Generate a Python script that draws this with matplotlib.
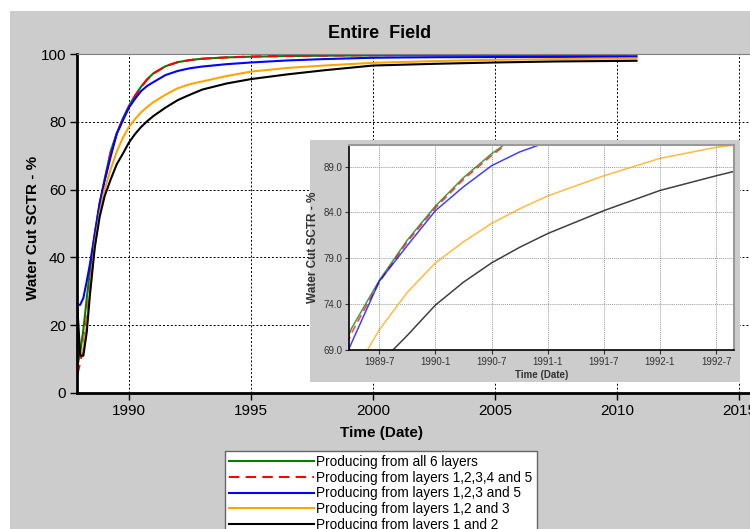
import matplotlib
matplotlib.use("Agg")
import matplotlib.pyplot as plt
from matplotlib.patches import Rectangle

plt.rcParams['font.family'] = ['Liberation Sans', 'DejaVu Sans']

# time in decimal years
years = [1987.88, 1988.0, 1988.13, 1988.27, 1988.4, 1988.6, 1988.8, 1989.0, 1989.25,
         1989.5, 1989.75, 1990.0, 1990.25, 1990.5, 1990.75, 1991.0, 1991.5, 1992.0,
         1992.5, 1993.0, 1994.0, 1995.0, 1996.5, 1998.0, 2000.0, 2002.5, 2005.0,
         2007.5, 2010.8]

wc_all6 = [7.7, 12.0, 18.6, 28.0, 36.0, 47.0, 56.0, 63.0, 71.3,
           76.6, 81.0, 84.7, 87.8, 90.4, 92.6, 94.3, 96.4, 97.6,
           98.2, 98.6, 99.0, 99.2, 99.4, 99.5, 99.6, 99.65, 99.7,
           99.7, 99.75]
wc_12345 = [5.3, 9.0, 13.5, 22.0, 31.0, 45.0, 55.0, 62.5, 70.8,
            76.4, 80.8, 84.5, 87.6, 90.2, 92.5, 94.2, 96.4, 97.6,
            98.2, 98.6, 99.0, 99.25, 99.45, 99.55, 99.65, 99.7, 99.75,
            99.75, 99.8]
wc_1235 = [26.0, 26.0, 28.0, 33.0, 38.0, 47.0, 56.0, 62.5, 69.7,
           76.5, 80.4, 84.2, 86.8, 89.1, 90.6, 91.7, 93.8, 95.0,
           95.8, 96.3, 97.0, 97.5, 98.1, 98.5, 98.9, 99.05, 99.1,
           99.15, 99.2]
wc_123 = [17.0, 11.0, 13.0, 20.0, 30.0, 44.0, 53.0, 60.0, 66.0,
          71.2, 75.3, 78.5, 80.8, 82.8, 84.4, 85.8, 88.0, 89.9,
          91.1, 91.9, 93.5, 94.8, 95.9, 96.6, 97.4, 97.9, 98.3,
          98.5, 98.7]
wc_12 = [26.0, 11.0, 11.0, 18.0, 29.0, 43.0, 52.0, 58.0, 63.0,
         67.5, 70.6, 73.9, 76.4, 78.5, 80.2, 81.7, 84.2, 86.4,
         88.0, 89.5, 91.3, 92.6, 94.0, 95.2, 96.6, 97.1, 97.5,
         97.8, 98.0]

labels = ['Producing from all 6 layers',
          'Producing from layers 1,2,3,4 and 5',
          'Producing from layers 1,2,3 and 5',
          'Producing from layers 1,2 and 3',
          'Producing from layers 1 and 2']
series = [wc_all6, wc_12345, wc_1235, wc_123, wc_12]
colors = ['#008000', '#ff0000', '#0000ff', '#ffa500', '#000000']
styles = ['-', (0, (5, 3)), '-', '-', '-']

main_xticks = [1990, 1995, 2000, 2005, 2010, 2015]
main_yticks = [0, 20, 40, 60, 80, 100]
inset_xticks = [1989.5, 1990.0, 1990.5, 1991.0, 1991.5, 1992.0, 1992.5]
inset_xlabels = ['1989-7', '1990-1', '1990-7', '1991-1', '1991-7', '1992-1', '1992-7']
inset_yticks = [69.0, 74.0, 79.0, 84.0, 89.0]

W, H = 750, 529
fig = plt.figure(figsize=(7.5, 5.29), dpi=100, facecolor='white')
fig.patches.append(Rectangle((10 / W, 0), 1, (H - 11) / H, transform=fig.transFigure,
                             facecolor='#cccccc', edgecolor='none', zorder=-5))

# main axes
ax = fig.add_axes([77 / W, (H - 393) / H, (760 - 77) / W, (393 - 54) / H], zorder=0)
ax.set_facecolor('white')
for s, c, ls, lab in zip(series, colors, styles, labels):
    ax.plot(years, s, color=c, linestyle=ls, linewidth=1.5, label=lab)
ax.set_xlim(1987.87, 2015.86)
ax.set_ylim(0, 100)
ax.set_xticks(main_xticks)
ax.set_yticks(main_yticks)
ax.tick_params(direction='out', length=5, width=1, labelsize=11, pad=3)
ax.grid(True, color='black', linestyle=(0, (2, 2)), linewidth=0.7)
ax.spines['left'].set_linewidth(2)
ax.spines['bottom'].set_linewidth(2)
ax.spines['top'].set_color('#808080')
ax.spines['right'].set_visible(False)

fig.text(380 / W, 1 - 33 / H, 'Entire  Field', ha='center', va='center',
         fontsize=13, fontweight='bold')
fig.text(33 / W, 1 - 228 / H, 'Water Cut SCTR - %', ha='center', va='center',
         rotation=90, fontsize=11, fontweight='bold')
fig.text(382 / W, 1 - 433 / H, 'Time (Date)', ha='center', va='center',
         fontsize=11, fontweight='bold')

# inset panel
fig.patches.append(Rectangle((310 / W, (H - 382) / H), 430 / W, 242 / H,
                             transform=fig.transFigure, facecolor='#cccccc',
                             edgecolor='none', zorder=1))
axi = fig.add_axes([349 / W, (H - 350) / H, 385 / W, 205 / H], zorder=2)
axi.set_facecolor('white')
for s, c, ls in zip(series, colors, styles):
    axi.plot(years, s, color=c, linestyle=ls, linewidth=1.1, alpha=0.75)
axi.set_xlim(1989.23, 1992.66)
axi.set_ylim(69.0, 91.36)
axi.set_xticks(inset_xticks)
axi.set_xticklabels(inset_xlabels)
axi.set_yticks(inset_yticks)
axi.set_yticklabels(['%.1f' % v for v in inset_yticks])
axi.tick_params(direction='out', length=3, width=0.8, labelsize=7, colors='#333333', pad=2)
axi.grid(True, color='#999999', linestyle=(0, (1, 1)), linewidth=0.7)
axi.spines['left'].set_linewidth(1.2)
axi.spines['bottom'].set_linewidth(1.2)
axi.spines['top'].set_color('#999999')
axi.spines['right'].set_color('#999999')
axi.spines['top'].set_linewidth(1.5)
axi.spines['right'].set_linewidth(1.5)
axi.set_xlabel('Time (Date)', fontsize=7, fontweight='bold', color='#333333', labelpad=2)
axi.set_ylabel('Water Cut SCTR - %', fontsize=8.5, fontweight='bold', color='#333333', labelpad=3)

# legend
handles, labs = ax.get_legend_handles_labels()
leg = fig.legend(handles, labs, loc='upper left', bbox_to_anchor=(225 / W, 1 - 451 / H),
                 fontsize=9.8, handlelength=6.25, handletextpad=0.15, labelspacing=0.12,
                 borderpad=0.3, borderaxespad=0, fancybox=False, framealpha=1,
                 edgecolor='#666666')
leg.get_frame().set_linewidth(1)

fig.savefig('out.png', dpi=100, facecolor='white')
